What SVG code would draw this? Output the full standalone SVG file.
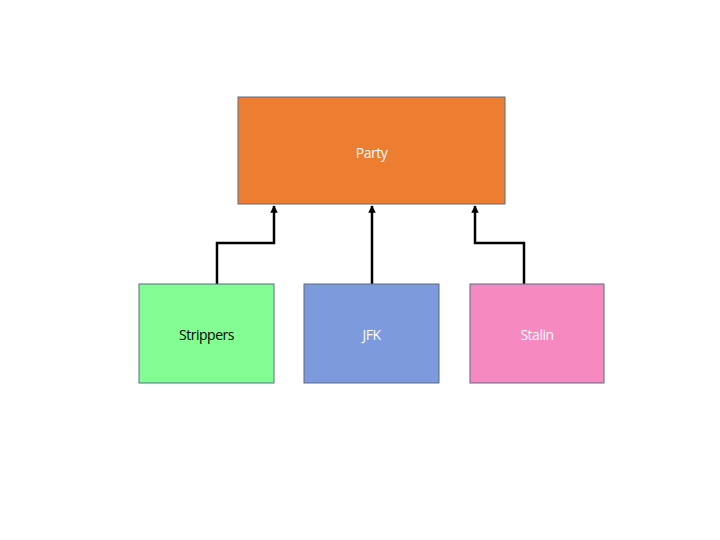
<svg xmlns="http://www.w3.org/2000/svg" width="720" height="540" viewBox="0 0 720 540">
<defs>
<style>
.box{stroke:#5a6b86;stroke-width:1}
.lbl{font-family:"Open Sans","Liberation Sans",sans-serif;font-size:14px;text-anchor:middle;dominant-baseline:central;letter-spacing:-0.5px}
.conn{fill:none;stroke:#000;stroke-width:2.5}
</style>
<marker id="arr" viewBox="0 0 10 10" refX="9" refY="5" markerWidth="3" markerHeight="3" orient="auto">
<path d="M0,0 L10,5 L0,10 z" fill="#000"/>
</marker>
</defs>
<rect width="720" height="540" fill="#fff"/>
<g id="connectors">
<path class="conn" d="M217,284 V243 H274 V206" marker-end="url(#arr)"/>
<path class="conn" d="M372,284 V206" marker-end="url(#arr)"/>
<path class="conn" d="M524,284 V243 H475 V206" marker-end="url(#arr)"/>
</g>
<g id="party">
<rect class="box" x="238" y="97" width="267" height="107" fill="#ED7D31"/>
<text class="lbl" x="371.5" y="152" fill="#fff">Party</text>
</g>
<g id="strippers">
<rect class="box" x="139" y="284" width="135" height="99" fill="#82FD92"/>
<text class="lbl" x="206.5" y="334" fill="#000">Strippers</text>
</g>
<g id="jfk">
<rect class="box" x="304" y="284" width="135" height="99" fill="#7C9ADC"/>
<text class="lbl" x="371.5" y="334" fill="#fff">JFK</text>
</g>
<g id="stalin">
<rect class="box" x="470" y="284" width="134" height="99" fill="#F589C0"/>
<text class="lbl" x="537" y="334" fill="#fff">Stalin</text>
</g>
</svg>
